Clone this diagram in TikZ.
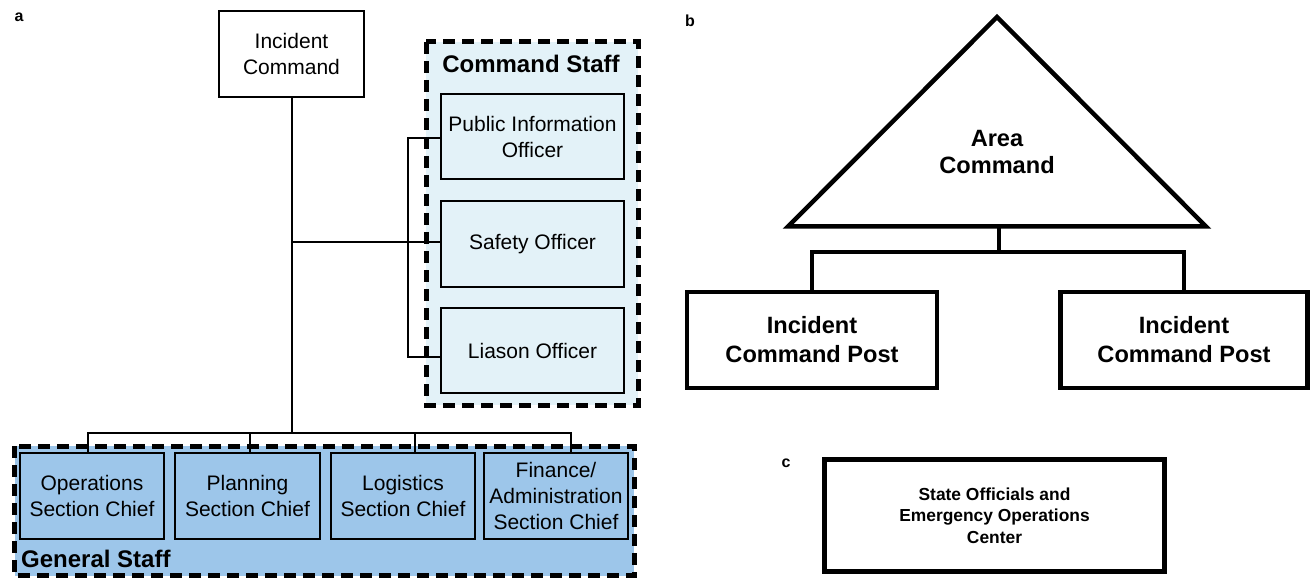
\documentclass[tikz,border=0pt]{standalone}
\usepackage{fontspec}
\setmainfont{Liberation Sans}
\definecolor{cmdfill}{HTML}{E3F2F8}
\definecolor{genfill}{HTML}{9DC6EA}
\begin{document}
\begin{tikzpicture}[x=1pt,y=-1pt,
  panel/.style={font=\bfseries\fontsize{16}{18}\selectfont, inner sep=0pt},
  orgbox/.style={draw, line width=2pt, inner sep=0pt, align=center,
    font=\fontsize{21}{26}\selectfont},
  link/.style={line width=2pt},
  staffframe/.style={line width=5pt, dash pattern=on 12pt off 7pt},
  stafftitle/.style={font=\bfseries\fontsize{24}{28}\selectfont, inner sep=0pt},
  postbox/.style={draw, line width=4.5pt, inner sep=0pt, align=center,
    font=\bfseries\fontsize{23.6}{29}\selectfont},
  heavylink/.style={line width=4pt}]

\useasboundingbox[fill=white] (0,0) rectangle (1312,580);

% ---------------- panel a: incident command structure ----------------
\node[panel] (la) at (19,17) {a};

\node[orgbox, minimum width=145pt, minimum height=86pt] (ic) at (291.5,54)
  {Incident\\Command};

% command staff group
\fill[cmdfill] (426,42) rectangle (638,405);
\draw[staffframe] (426,42) rectangle (638,405);
\node[stafftitle] (cst) at (531,64) {Command Staff};
\node[orgbox, fill=cmdfill, minimum width=183pt, minimum height=85pt] (pio)
  at (532.5,136.5) {Public Information\\Officer};
\node[orgbox, fill=cmdfill, minimum width=183pt, minimum height=86pt] (safety)
  at (532.5,244) {Safety Officer};
\node[orgbox, fill=cmdfill, minimum width=183pt, minimum height=85pt] (liason)
  at (532.5,350.5) {Liason Officer};

% general staff group
\fill[genfill] (14.5,446) rectangle (634,575.5);
\draw[staffframe] (14.5,446) rectangle (634,575.5);
\node[stafftitle, anchor=base west] (gst) at (21,567) {General Staff};
\node[orgbox, fill=genfill, minimum width=144pt, minimum height=86pt] (ops)
  at (92,496) {Operations\\Section Chief};
\node[orgbox, fill=genfill, minimum width=145pt, minimum height=86pt] (plan)
  at (247.5,496) {Planning\\Section Chief};
\node[orgbox, fill=genfill, minimum width=144pt, minimum height=86pt] (logi)
  at (403,496) {Logistics\\Section Chief};
\node[orgbox, fill=genfill, minimum width=144pt, minimum height=86pt] (fin)
  at (556,496) {Finance/\\Administration\\Section Chief};

% connectors of panel a
\coordinate (sj) at (291.5,242);
\coordinate (busL) at (88,432.5);
\coordinate (busR) at (571,432.5);
\coordinate (drop2) at (250,432.5);
\coordinate (drop3) at (415,432.5);
\draw[link] (ic.south) -- (ic.south |- busL);
\draw[link] (sj) -- (sj -| safety.west);
\draw[link] ([yshift=-1.5pt]pio.west) -- ++(-32,0) |- ([yshift=-6.5pt]liason.west);
\draw[link] (busL |- ops.north) -- (busL) -- (busR) -- (busR |- fin.north);
\draw[link] (drop2) -- (drop2 |- plan.north);
\draw[link] (drop3) -- (drop3 |- logi.north);

% ---------------- panel b: area command ----------------
\node[panel] (lb) at (690,21) {b};
\draw[line width=4.5pt, line join=miter] (997,17) -- (1206,226.5) -- (788,226.5) -- cycle;
\node[align=center, inner sep=0pt, font=\bfseries\fontsize{23.6}{27}\selectfont]
  (area) at (997,152) {Area\\Command};
\coordinate (areabase) at (999,226.5);
\node[postbox, minimum width=250pt, minimum height=96pt] (icpl) at (812,340)
  {Incident\\Command Post};
\node[postbox, minimum width=247pt, minimum height=96pt] (icpr) at (1184,340)
  {Incident\\Command Post};
\coordinate (hub) at (999,252);
\draw[heavylink] (areabase) -- (hub);
\draw[heavylink] (icpl.north) |- (hub) -| (icpr.north);

% ---------------- panel c: state level ----------------
\node[panel] (lc) at (786,463) {c};
\node[draw, line width=5pt, minimum width=340pt, minimum height=112pt,
  inner sep=0pt, align=center, font=\bfseries\fontsize{17.4}{21.5}\selectfont]
  (state) at (994.5,515.5)
  {State Officials and\\Emergency Operations\\Center};

\end{tikzpicture}
\end{document}
